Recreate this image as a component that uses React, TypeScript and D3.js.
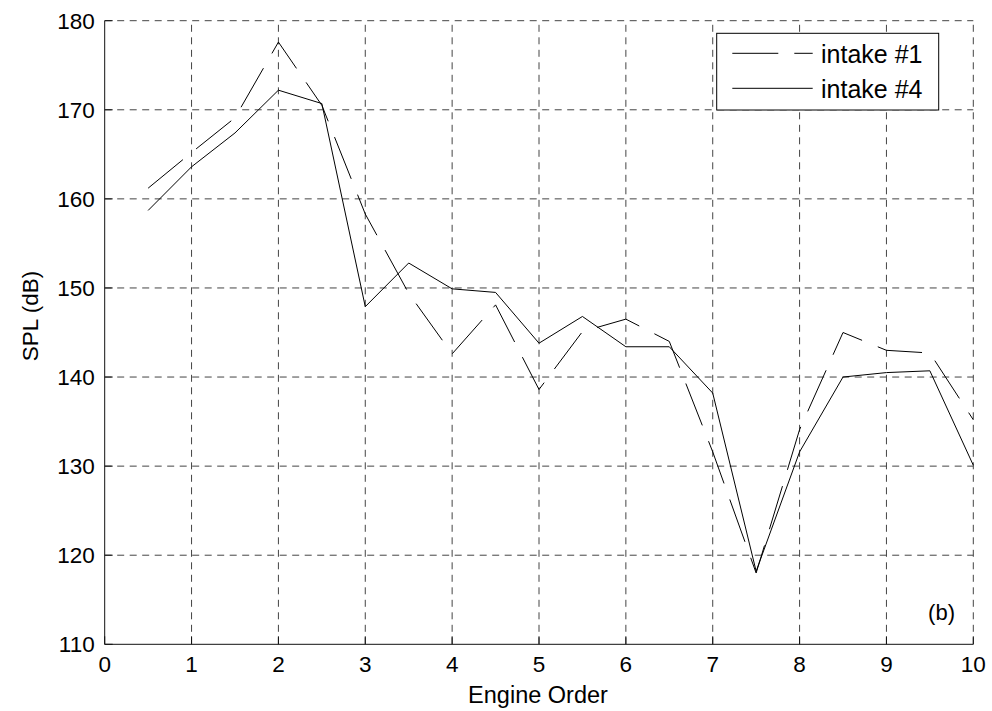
import { useRef, useEffect } from "react";
import * as d3 from "d3";

const engineOrder = [0.5, 1, 1.5, 2, 2.5, 3, 3.5, 4, 4.5, 5, 5.5, 6, 6.5, 7, 7.5, 8, 8.5, 9, 9.5, 10];
const intake1 = [161.2, 165.2, 169.1, 177.6, 170.5, 158.3, 149.4, 142.6, 148.1, 138.6, 145.1, 146.5, 144.0, 131.6, 118.0, 134.1, 145.0, 143.0, 142.7, 135.2];
const intake4 = [158.7, 163.6, 167.4, 172.2, 170.7, 147.9, 152.8, 149.9, 149.5, 143.8, 146.8, 143.4, 143.4, 138.2, 118.2, 131.6, 140.0, 140.5, 140.7, 130.1];
const xTicks = [0, 1, 2, 3, 4, 5, 6, 7, 8, 9, 10];
const yTicks = [110, 120, 130, 140, 150, 160, 170, 180];
const legendLabels = ["intake #1", "intake #4"];

const W = 992;
const H = 711;
const FONT = "Arial, 'Liberation Sans', Helvetica, sans-serif";

export default function App() {
  const svgRef = useRef<SVGSVGElement>(null);

  useEffect(() => {
    const svg = d3.select(svgRef.current);
    svg.selectAll("*").remove();

    const x = d3.scaleLinear().domain([0, 10]).range([104.7, 973.3]);
    const y = d3.scaleLinear().domain([110, 180]).range([644.3, 20.7]);
    const [x0, x1] = x.range();
    const [yb, yt] = y.range();

    svg.append("rect").attr("width", W).attr("height", H).attr("fill", "#fff");

    // axis lines (box off: left + bottom only)
    svg.append("line")
      .attr("x1", x0).attr("x2", x0).attr("y1", yb).attr("y2", yt)
      .attr("stroke", "#111").attr("stroke-width", 1);
    svg.append("line")
      .attr("x1", x0).attr("x2", x1).attr("y1", yb).attr("y2", yb)
      .attr("stroke", "#111").attr("stroke-width", 1);

    // grid
    const grid = svg.append("g")
      .attr("stroke", "#444")
      .attr("stroke-width", 1)
      .attr("stroke-dasharray", "7 5.5")
      .attr("fill", "none");
    xTicks.filter(t => t > 0).forEach(t => {
      grid.append("line")
        .attr("x1", x(t)).attr("x2", x(t))
        .attr("y1", yb).attr("y2", yt);
    });
    yTicks.filter(t => t > 110).forEach(t => {
      grid.append("line")
        .attr("x1", x0).attr("x2", x1)
        .attr("y1", y(t)).attr("y2", y(t));
    });

    // inward ticks
    const ticks = svg.append("g").attr("stroke", "#111").attr("stroke-width", 1);
    xTicks.forEach(t => {
      ticks.append("line")
        .attr("x1", x(t)).attr("x2", x(t))
        .attr("y1", yb).attr("y2", yb - 8);
    });
    yTicks.forEach(t => {
      ticks.append("line")
        .attr("x1", x0).attr("x2", x0 + 8)
        .attr("y1", y(t)).attr("y2", y(t));
    });

    // tick labels
    const labels = svg.append("g")
      .attr("font-family", FONT)
      .attr("font-size", 22.5)
      .attr("fill", "#000");
    xTicks.forEach(t => {
      labels.append("text")
        .attr("x", x(t)).attr("y", yb + 27.5)
        .attr("text-anchor", "middle")
        .text(t);
    });
    yTicks.forEach(t => {
      labels.append("text")
        .attr("x", x0 - 10).attr("y", y(t) + 8)
        .attr("text-anchor", "end")
        .text(t);
    });

    // axis titles
    svg.append("text")
      .attr("x", 538).attr("y", 703)
      .attr("text-anchor", "middle")
      .attr("font-family", FONT).attr("font-size", 23.5)
      .text("Engine Order");
    svg.append("text")
      .attr("transform", "translate(38,316) rotate(-90)")
      .attr("text-anchor", "middle")
      .attr("font-family", FONT).attr("font-size", 22.5)
      .text("SPL (dB)");

    // series
    const line = d3.line<number>()
      .x((d, i) => x(engineOrder[i]))
      .y(d => y(d));

    svg.append("path")
      .datum(intake1)
      .attr("d", line)
      .attr("fill", "none")
      .attr("stroke", "#000")
      .attr("stroke-width", 1)
      .attr("stroke-dasharray", "45 17");

    svg.append("path")
      .datum(intake4)
      .attr("d", line)
      .attr("fill", "none")
      .attr("stroke", "#000")
      .attr("stroke-width", 1);

    // panel tag
    svg.append("text")
      .attr("x", 955).attr("y", 620)
      .attr("text-anchor", "end")
      .attr("font-family", FONT).attr("font-size", 22)
      .text("(b)");

    // legend
    const lg = svg.append("g");
    lg.append("rect")
      .attr("x", 716.7).attr("y", 33.3)
      .attr("width", 222).attr("height", 76.7)
      .attr("fill", "#fff").attr("stroke", "#000").attr("stroke-width", 1);
    legendLabels.forEach((name, i) => {
      const ly = 53.3 + i * 35;
      lg.append("line")
        .attr("x1", 732.3).attr("x2", 812.7)
        .attr("y1", ly).attr("y2", ly)
        .attr("stroke", "#000").attr("stroke-width", 1)
        .attr("stroke-dasharray", i === 0 ? "46 16" : null);
      lg.append("text")
        .attr("x", 821).attr("y", ly + 9.5)
        .attr("font-family", FONT).attr("font-size", 25)
        .text(name);
    });
  }, []);

  return (
    <svg
      ref={svgRef}
      width={W}
      height={H}
      style={{ display: "block", position: "absolute", left: 0, top: 0 }}
    />
  );
}
